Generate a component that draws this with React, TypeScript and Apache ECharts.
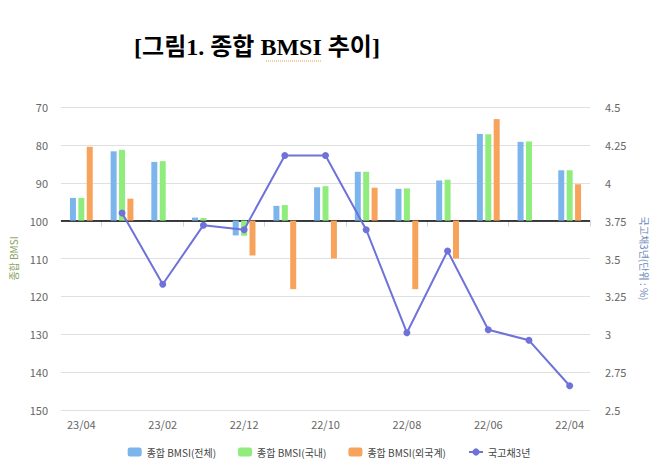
import React, { useEffect, useRef } from "react";
import * as echarts from "echarts";

const categories = ["23/04", "23/03", "23/02", "23/01", "22/12", "22/11", "22/10", "22/09", "22/08", "22/07", "22/06", "22/05", "22/04"];
const bmsiTotal = [94.0, 81.7, 84.5, 99.2, 103.9, 96.1, 91.2, 87.1, 91.6, 89.4, 77.1, 79.2, 86.7];
const bmsiDomestic = [94.0, 81.3, 84.3, 99.3, 104.0, 95.9, 90.9, 87.1, 91.5, 89.2, 77.2, 79.1, 86.7];
const bmsiForeign = [80.5, 94.2, null, null, 109.2, 118.1, 110.0, 91.3, 118.1, 110.0, 73.2, null, 90.4];
const bond3y = [null, 3.8, 3.33, 3.72, 3.69, 4.18, 4.18, 3.69, 3.01, 3.55, 3.03, 2.96, 2.66];

const BASE = 100;
const seriesNames = ["종합 BMSI(전체)", "종합 BMSI(국내)", "종합 BMSI(외국계)", "국고채3년"];
const colors = ["#7cb5ec", "#90ed7d", "#f7a35c", "#6e72d9"];

const shift = (arr: (number | null)[]) => arr.map((v) => (v == null ? null : +(v - BASE).toFixed(2)));

export default function App() {
  const ref = useRef<HTMLDivElement>(null);
  useEffect(() => {
    if (!ref.current) return;
    const chart = echarts.init(ref.current, null, { renderer: "svg" });
    const labelFont = "'Noto Sans CJK KR', sans-serif";
    const barCommon = {
      type: "bar",
      barWidth: 6,
      barGap: "40%",
    };
    chart.setOption({
      animation: false,
      color: colors,
      graphic: [
        {
          type: "text",
          x: 257,
          y: 47,
          style: {
            text: "[그림1. 종합 BMSI 추이]",
            fontFamily: "'Liberation Serif', 'Noto Sans CJK KR', serif",
            fontWeight: "bold",
            fontSize: 24,
            fill: "#000",
            textAlign: "center",
            textVerticalAlign: "middle",
          },
        },
        {
          type: "line",
          shape: { x1: 266, y1: 61, x2: 321, y2: 61 },
          style: { stroke: "#e8a050", lineWidth: 1, lineDash: [1, 1] },
        },
      ],
      legend: {
        data: seriesNames,
        left: "center",
        top: 442,
        itemWidth: 14,
        itemHeight: 9,
        itemGap: 22,
        textStyle: { fontSize: 10, color: "#444", fontFamily: labelFont },
      },
      grid: { left: 57, right: 66, top: 107, bottom: 51, containLabel: false },
      xAxis: {
        type: "category",
        data: categories,
        boundaryGap: true,
        axisLine: { show: true, lineStyle: { color: "#ccd6eb", width: 1 } },
        axisTick: {
          show: true,
          length: 6,
          interval: (index: number) => index % 2 === 1,
          lineStyle: { color: "#ccd6eb" },
        },
        axisLabel: { interval: 1, color: "#666", fontSize: 11, margin: 8, fontFamily: labelFont },
        splitLine: { show: false },
      },
      yAxis: [
        {
          type: "value",
          inverse: true,
          min: -30,
          max: 50,
          interval: 10,
          name: "종합 BMSI",
          nameLocation: "middle",
          nameRotate: 90,
          nameGap: 43,
          nameTextStyle: { color: "#8aa35c", fontSize: 10, fontFamily: labelFont },
          axisLine: { show: false },
          axisTick: { show: false },
          axisLabel: {
            color: "#666",
            fontSize: 11,
            margin: 13,
            fontFamily: labelFont,
            formatter: (v: number) => String(v + BASE),
          },
          splitLine: { show: true, lineStyle: { color: "#e0e0e0", width: 1 } },
        },
        {
          type: "value",
          min: 2.5,
          max: 4.5,
          interval: 0.25,
          name: "국고채3년(단위 : %)",
          nameLocation: "middle",
          nameRotate: -90,
          nameGap: 50,
          nameTextStyle: { color: "#6b86b8", fontSize: 10, fontFamily: labelFont },
          axisLine: { show: false },
          axisTick: { show: false },
          axisLabel: { color: "#666", fontSize: 11, margin: 15, fontFamily: labelFont },
          splitLine: { show: false },
        },
      ],
      series: [
        {
          ...barCommon,
          name: seriesNames[0],
          data: shift(bmsiTotal),
          itemStyle: { color: colors[0] },
          markLine: {
            silent: true,
            symbol: "none",
            label: { show: false },
            lineStyle: { color: "#000", width: 1.5, type: "solid" },
            data: [{ yAxis: 0 }],
            z: 1,
          },
        },
        { ...barCommon, name: seriesNames[1], data: shift(bmsiDomestic), itemStyle: { color: colors[1] } },
        { ...barCommon, name: seriesNames[2], data: shift(bmsiForeign), itemStyle: { color: colors[2] } },
        {
          type: "line",
          name: seriesNames[3],
          yAxisIndex: 1,
          data: bond3y,
          symbol: "circle",
          symbolSize: 7,
          lineStyle: { color: colors[3], width: 2 },
          itemStyle: { color: colors[3] },
          z: 5,
        },
      ],
    });
    return () => chart.dispose();
  }, []);
  return (
    <div
      ref={ref}
      style={{ position: "fixed", left: 0, top: 0, width: 658, height: 461, background: "#fff" }}
    />
  );
}
